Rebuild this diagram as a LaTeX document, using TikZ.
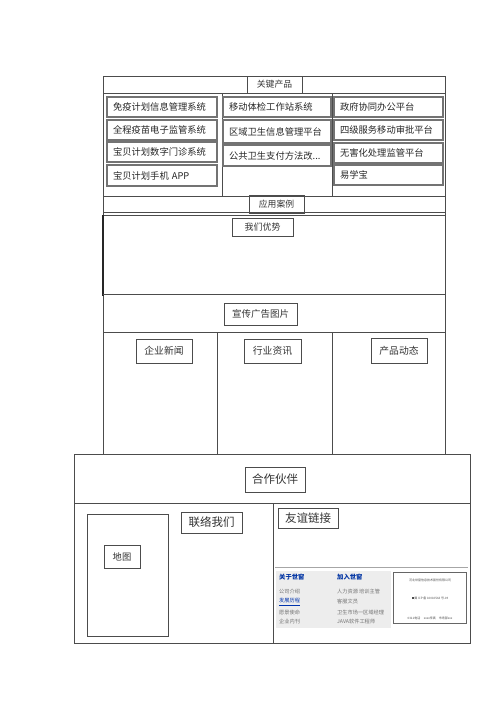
\documentclass[tikz,border=0pt]{standalone}
\usepackage{fontspec}
\newfontfamily\cjk{Noto Sans CJK SC}
\tikzset{
  frame/.style={draw=black!70, line width=0.7pt},
  itembox/.style={draw=black!55, line width=1.1pt, inner xsep=6pt, inner ysep=0pt, align=left,
     font=\cjk\fontsize{9.3}{11}\selectfont, text=black!85},
  lbl/.style={draw=black!70, line width=0.7pt, inner sep=0pt, text=black!80},
  ft/.style={anchor=west, inner sep=0pt, font=\cjk\fontsize{5.2}{6}\selectfont, text=black!55},
  fh/.style={anchor=west, inner sep=0pt, font=\cjk\bfseries\fontsize{6.3}{7}\selectfont, text=blue!55!black!80!cyan},
  tiny/.style={inner sep=0pt, font=\cjk\fontsize{3}{3.5}\selectfont, text=black!70}
}
\begin{document}
\begin{tikzpicture}[x=1pt,y=-1pt]
\useasboundingbox (0,0) rectangle (500,707);
% ---- frames
\draw[frame] (103,76) rectangle (445,196);
\draw[frame] (103,93) -- (445,93);
\draw[frame] (222,93) -- (222,196);
\draw[frame] (332,93) -- (332,196);
\draw[frame] (103,212) -- (445,212);
\draw[frame] (103,215) -- (445,215);
\draw[frame] (103,196) -- (103,454);
\draw[frame] (445,196) -- (445,454);
\draw[draw=black!85, line width=1.1pt] (103,215) -- (103,296);
\draw[frame] (103,294) -- (445,294);
\draw[frame] (103,332) -- (445,332);
\draw[frame] (217,332) -- (217,454);
\draw[frame] (332,332) -- (332,454);
\draw[frame] (74,454) rectangle (470,643);
\draw[frame] (74,503) -- (470,503);
\draw[frame] (273,503) -- (273,643);
% ---- section labels
\node[lbl, minimum width=55pt, minimum height=17pt, font=\cjk\fontsize{8.8}{10}\selectfont] (gjcp) at (274.5,84.5) {关键产品};
\node[lbl, minimum width=55pt, minimum height=18pt, font=\cjk\fontsize{8.8}{10}\selectfont] (yyal) at (276.5,204) {应用案例};
\node[lbl, minimum width=61pt, minimum height=18pt, font=\cjk\fontsize{9}{10}\selectfont] (wmys) at (262.5,227) {我们优势};
\node[lbl, minimum width=73pt, minimum height=22pt, font=\cjk\fontsize{9.5}{11}\selectfont] (xcgg) at (260.5,314) {宣传广告图片};
\node[lbl, minimum width=56pt, minimum height=24pt, font=\cjk\fontsize{9.8}{11}\selectfont] (qyxw) at (164,351) {企业新闻};
\node[lbl, minimum width=57pt, minimum height=24pt, font=\cjk\fontsize{9.8}{11}\selectfont] (hyzx) at (272.5,351) {行业资讯};
\node[lbl, minimum width=56pt, minimum height=25pt, font=\cjk\fontsize{9.8}{11}\selectfont] (cpdt) at (399,350.5) {产品动态};
\node[lbl, minimum width=60pt, minimum height=25pt, font=\cjk\fontsize{11.5}{13}\selectfont] (hzhb) at (275,479.5) {合作伙伴};
\node[lbl, minimum width=61pt, minimum height=21pt, font=\cjk\fontsize{11.5}{13}\selectfont] (llwm) at (211.5,522.5) {联络我们};
\node[lbl, minimum width=60pt, minimum height=20pt, font=\cjk\fontsize{11.5}{13}\selectfont] (yylj) at (308,518) {友谊链接};
\node[lbl, minimum width=81pt, minimum height=122pt] (mapbox) at (127.5,575) {};
\node[lbl, minimum width=36pt, minimum height=23pt, font=\cjk\fontsize{9.3}{11}\selectfont] (ditu) at (122,556.5) {地图};
% ---- product items
\node[itembox, text width=98pt, minimum height=20pt] (p11) at (162,107) {免疫计划信息管理系统};
\node[itembox, text width=98pt, minimum height=20pt] (p12) at (162,130) {全程疫苗电子监管系统};
\node[itembox, text width=98pt, minimum height=20pt] (p13) at (162,152) {宝贝计划数字门诊系统};
\node[itembox, text width=98pt, minimum height=21pt] (p14) at (162,175.5) {宝贝计划手机 APP};
\node[itembox, text width=96pt, minimum height=20pt] (p21) at (277,107) {移动体检工作站系统};
\node[itembox, text width=96pt, minimum height=23pt] (p22) at (277,131.5) {区域卫生信息管理平台};
\node[itembox, text width=96pt, minimum height=21pt] (p23) at (277,155.5) {公共卫生支付方法改...};
\node[itembox, text width=97pt, minimum height=20pt] (p31) at (388.5,107) {政府协同办公平台};
\node[itembox, text width=97pt, minimum height=20pt] (p32) at (388.5,130) {四级服务移动审批平台};
\node[itembox, text width=97pt, minimum height=20pt] (p33) at (388.5,153) {无害化处理监管平台};
\node[itembox, text width=97pt, minimum height=20pt] (p34) at (388.5,175) {易学宝};
% ---- footer screenshot
\draw[black!35, line width=0.5pt] (275,567) -- (468,567);
\fill[black!7] (276,571) rectangle (391,628);
\node[fh] (h1) at (279,577) {关于世窗};
\node[fh] (h2) at (337,577) {加入世窗};
\node[ft] (a1) at (279,592) {公司介绍};
\node[ft, text=blue!60!black!80!cyan] (a2) at (279,602) {\underline{发展历程}};
\node[ft] (a3) at (279,612) {愿景使命};
\node[ft] (a4) at (279,621.5) {企业内刊};
\node[ft] (b1) at (337,592) {人力资源 培训主管};
\node[ft] (b2) at (337,602) {客服文员};
\node[ft] (b3) at (337,612) {卫生市场一区域经理};
\node[ft] (b4) at (337,621.5) {JAVA软件工程师};
\node[draw=black!60, line width=0.5pt, minimum width=73pt, minimum height=51pt, inner sep=0pt] (wbox) at (429.5,597.5) {};
\node[tiny] (w1) at (430,580) {河北世窗信息技术股份有限公司};
\node[tiny] (w2) at (430,598) {\rule{2pt}{2pt}\ 冀 ICP 备 10010563 号-19};
\node[tiny] (w3) at (430,618) {0311电话\quad\ xxxx传真\quad 市场部xxx};
\end{tikzpicture}
\end{document}
